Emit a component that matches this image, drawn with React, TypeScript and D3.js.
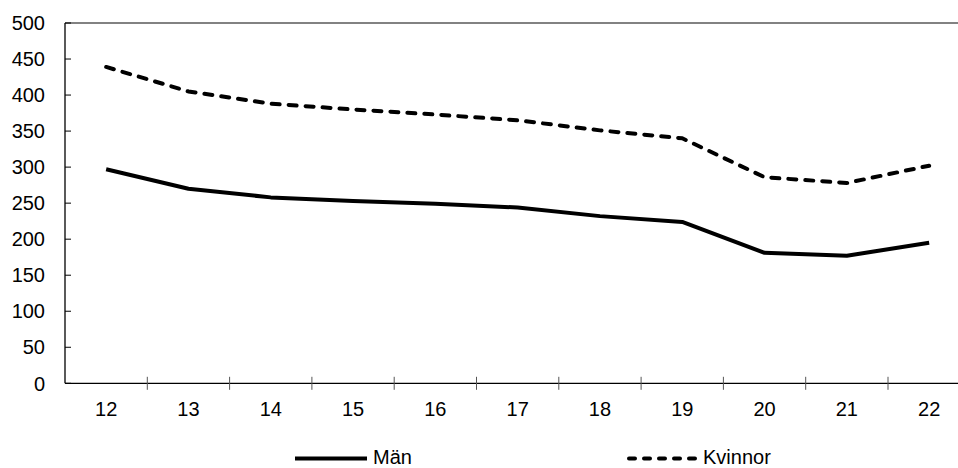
import React from "react";
import * as d3 from "d3";

const years = ["12", "13", "14", "15", "16", "17", "18", "19", "20", "21", "22"];
const man = [297, 270, 258, 253, 249, 244, 232, 224, 181, 177, 195];
const kvinnor = [439, 405, 388, 380, 373, 365, 351, 340, 286, 278, 302];
const yTicks = [0, 50, 100, 150, 200, 250, 300, 350, 400, 450, 500];

const W = 958;
const H = 468;
const left = 65;
const top = 23;
const bottom = 383.3;
const band = 82.3;
const font = "'Liberation Sans', Arial, sans-serif";

export default function App() {
  const x = d3
    .scaleBand<string>()
    .domain(years)
    .range([left, left + band * years.length])
    .paddingInner(0)
    .paddingOuter(0);
  const y = d3.scaleLinear().domain([0, 500]).range([bottom, top]);
  const cx = (d: string) => (x(d) ?? 0) + x.bandwidth() / 2;

  const line = d3
    .line<number>()
    .x((_, i) => cx(years[i]))
    .y((v) => y(v));

  const boundaries = years.slice(1).map((d) => x(d) ?? 0);

  return (
    <svg
      width={W}
      height={H}
      style={{ position: "absolute", left: 0, top: 0, background: "#fff" }}
      fontFamily={font}
    >
      {/* frame top */}
      <line x1={left} x2={W} y1={top} y2={top} stroke="#595959" strokeWidth={1.3} />

      {/* y axis */}
      <line x1={left} x2={left} y1={top} y2={bottom} stroke="#000" strokeWidth={1.3} />
      {yTicks.map((t) => (
        <g key={t}>
          <line x1={left} x2={left + 6} y1={y(t)} y2={y(t)} stroke="#000" strokeWidth={1} />
          <text x={45} y={y(t)} dy="0.36em" textAnchor="end" fontSize={20} fill="#000">
            {t}
          </text>
        </g>
      ))}

      {/* x axis */}
      <line x1={left} x2={W} y1={bottom} y2={bottom} stroke="#000" strokeWidth={1.3} />
      {boundaries.map((b, i) => (
        <line key={i} x1={b} x2={b} y1={bottom - 6.5} y2={bottom + 6.5} stroke="#555" strokeWidth={1} />
      ))}
      {years.map((d) => (
        <text key={d} x={cx(d)} y={416} textAnchor="middle" fontSize={20} fill="#000">
          {d}
        </text>
      ))}

      {/* series */}
      <path d={line(man) ?? ""} fill="none" stroke="#000" strokeWidth={4} strokeLinejoin="round" />
      <path
        d={line(kvinnor) ?? ""}
        fill="none"
        stroke="#000"
        strokeWidth={4}
        strokeDasharray="8 9"
        strokeLinecap="round"
        strokeLinejoin="round"
      />

      {/* legend */}
      <line x1={295} x2={367} y1={458.5} y2={458.5} stroke="#000" strokeWidth={4} />
      <text x={373} y={464} fontSize={20} fill="#000">Män</text>
      <line
        x1={629}
        x2={697}
        y1={458.5}
        y2={458.5}
        stroke="#000"
        strokeWidth={4}
        strokeDasharray="6 9"
        strokeLinecap="round"
      />
      <text x={703} y={464} fontSize={20} fill="#000">Kvinnor</text>
    </svg>
  );
}
